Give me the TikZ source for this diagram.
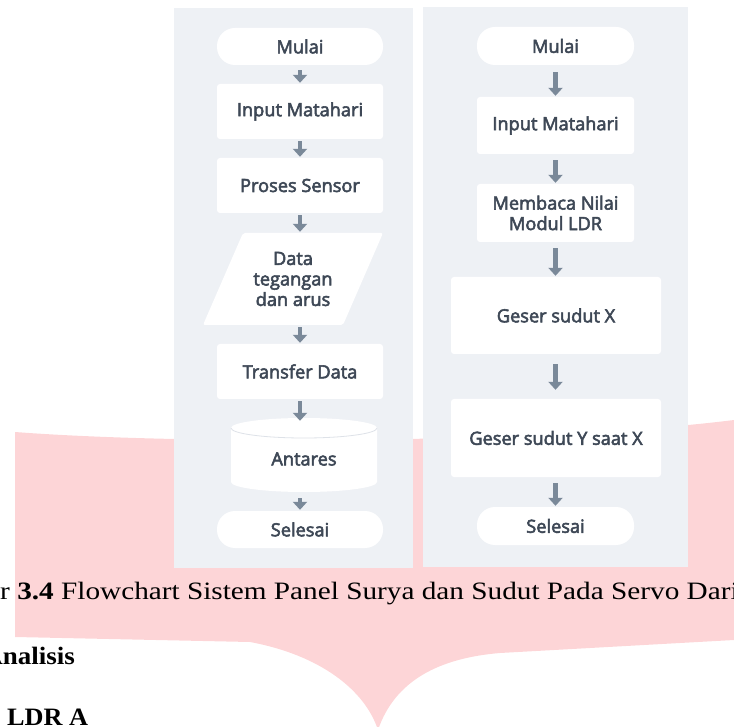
\documentclass[tikz,border=0pt]{standalone}
\usepackage{fontspec}
\setmainfont{Liberation Serif}
\newfontfamily\flowfont[FakeBold=3]{Open Sans}
\usetikzlibrary{arrows.meta}
\definecolor{pinkwm}{RGB}{253,213,215}
\definecolor{panelgray}{RGB}{238,241,245}
\definecolor{flowtext}{RGB}{62,72,86}
\definecolor{arrowgray}{RGB}{122,137,153}
\definecolor{edgegray}{RGB}{222,226,232}
\tikzset{
  panel/.style={fill=panelgray},
  flow/.style={font=\flowfont\fontsize{18.2}{20.5}\selectfont, text=flowtext, align=center},
  boxnode/.style={flow, rectangle, fill=white, rounded corners=3pt, inner sep=0pt},
  pill/.style={flow, rectangle, fill=white, rounded corners=18pt, inner sep=0pt},
  plainnode/.style={flow, rectangle, inner sep=0pt},
  flowarrow/.style={draw=arrowgray, line width=4.5pt, -{Triangle[width=14pt,length=8pt]}, shorten <=5pt, shorten >=1pt},
  captext/.style={inner sep=0pt, font=\fontsize{25}{29}\selectfont}
}
\begin{document}
\begin{tikzpicture}[x=1pt,y=-1pt]
\useasboundingbox (0,0) rectangle (734,727);
% watermark
\fill[pinkwm] (15,432) .. controls (200,446) and (560,442) .. (734,420)
  -- (734,640) -- (500,653) .. controls (440,658) and (395,680) .. (378,730)
  .. controls (365,690) and (320,655) .. (250,642) -- (15,637) -- cycle;
% panels
\fill[panel] (174,8) rectangle (413,568);
\fill[panel] (423,7) rectangle (688,567);
% left column
\node[pill, minimum width=166pt, minimum height=37pt] (L1) at (300,46.5) {Mulai};
\node[boxnode, minimum width=166pt, minimum height=55pt] (L2) at (300,111.5) {Input Matahari};
\node[boxnode, minimum width=166pt, minimum height=55pt] (L3) at (300,185.5) {Proses Sensor};
\fill[white, rounded corners=2pt] (243,233) -- (383,233) -- (343,325) -- (203,325) -- cycle;
\node[plainnode, minimum width=140pt, minimum height=92pt] (L4) at (293,279) {Data\\tegangan\\dan arus};
\node[boxnode, minimum width=166pt, minimum height=55pt] (L5) at (300,371.5) {Transfer Data};
\fill[white] (231,428) -- (231,482) arc[start angle=180, end angle=0, x radius=73, y radius=10]
  -- (377,428) arc[start angle=0, end angle=-180, x radius=73, y radius=10] -- cycle;
\draw[edgegray, line width=0.8pt] (231,428) arc[start angle=180, end angle=0, x radius=73, y radius=10];
\node[plainnode, minimum width=146pt, minimum height=74pt] (L6) at (304,459) {Antares};
\node[pill, minimum width=166pt, minimum height=37pt] (L7) at (300,529.5) {Selesai};
% right column
\node[pill, minimum width=157pt, minimum height=38pt] (R1) at (555.5,46) {Mulai};
\node[boxnode, minimum width=157pt, minimum height=57pt] (R2) at (555.5,125.5) {Input Matahari};
\node[boxnode, minimum width=157pt, minimum height=58pt] (R3) at (555.5,213) {Membaca Nilai\\Modul LDR};
\node[boxnode, minimum width=210pt, minimum height=77pt] (R4) at (556,315.5) {Geser sudut X};
\node[boxnode, minimum width=210pt, minimum height=78pt] (R5) at (556,438) {Geser sudut Y saat X};
\node[pill, minimum width=157pt, minimum height=38pt] (R6) at (555.5,526) {Selesai};
% arrows left
\draw[flowarrow] (L1.south) -- (L2.north);
\draw[flowarrow, shorten <=2pt] (L2.south) -- (L3.north);
\draw[flowarrow, shorten <=2pt] (L3.south) -- (L3.south |- L4.north);
\draw[flowarrow, shorten <=2pt] (L5.north |- L4.south) -- (L5.north);
\draw[flowarrow, shorten <=2pt] (L5.south) -- (L5.south |- L6.north);
\draw[flowarrow, shorten <=2pt] (L7.north |- L6.south) -- (L7.north);
% arrows right
\draw[flowarrow, shorten <=7pt] (R1.south) -- (R2.north);
\draw[flowarrow, shorten <=6pt] (R2.south) -- (R3.north);
\draw[flowarrow, shorten <=6pt] (R3.south) -- (R3.south |- R4.north);
\draw[flowarrow, shorten <=10pt, shorten >=9pt] (R4.south -| R3.south) -- (R5.north -| R3.south);
\draw[flowarrow, shorten <=6pt] (R5.south -| R6.north) -- (R6.north);
% caption and text
\node[captext, anchor=base west] (cap) at (0,599) {\scalebox{1.17}[1]{r \textbf{3.4} Flowchart Sistem Panel Surya dan Sudut Pada Servo Dari}};
\node[captext, anchor=base east] (ana) at (75,664) {\scalebox{1.08}[1]{\textbf{Analisis}}};
\node[captext, anchor=base west] (ldr) at (7,725) {\scalebox{1.05}[1]{\textbf{LDR A}}};
\end{tikzpicture}
\end{document}
